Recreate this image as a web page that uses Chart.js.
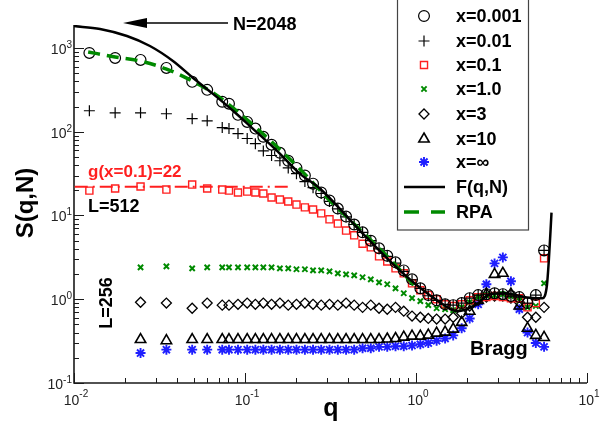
<!DOCTYPE html>
<html>
<head>
<meta charset="utf-8">
<script src="https://cdn.jsdelivr.net/npm/chart.js@4.4.1/dist/chart.umd.min.js"></script>
<style>
  html, body { margin: 0; padding: 0; background: #fff; }
  canvas { display: block; }
</style>
</head>
<body>
<canvas id="sq" width="612" height="434"></canvas>
<script>
"use strict";

// ── q sampling (L=512 runs start one shell earlier than L=256 runs) ──
const qHead512 = [0.0123, 0.0174];
const qHead256 = [0.0245, 0.0347, 0.0491, 0.0601, 0.0736, 0.0806, 0.0910];
const qGrid = [0.103, 0.115, 0.128, 0.143, 0.160, 0.179, 0.200, 0.224, 0.250, 0.279,
  0.312, 0.349, 0.390, 0.435, 0.487, 0.544, 0.608, 0.679, 0.759, 0.848,
  0.948, 1.06, 1.18, 1.32, 1.48, 1.65, 1.85, 2.06, 2.31, 2.58,
  2.88, 3.22, 3.59, 4.02, 4.49, 5.02, 5.61];
const q512 = [...qHead512, ...qHead256, ...qGrid];
const q256 = [...qHead256, ...qGrid];

// ── S(q,N) series ──
const sX0001 = [872, 760, 720, 578, 394, 316, 228, 216, 159,
  131, 109, 87, 70, 56, 45, 37, 30, 24, 18.8, 15.1, 12.1, 9.7, 7.8, 6.3, 5.0, 4.05, 3.3, 2.76, 2.21,
  1.73, 1.35, 1.12, 0.97, 0.87, 0.85, 0.90, 1.03, 1.12, 1.15, 1.18, 1.15, 1.09, 1.06, 0.90, 1.12, 3.83];
const sX001 = [178, 168, 168, 164, 143, 135, 112, 109, 95,
  83, 72, 59, 52, 45, 37, 31.6, 25.4, 21.5, 18.3, 14.7, 12.0, 9.6, 7.8, 6.3, 5.0, 4.0, 3.25, 2.7, 2.15,
  1.70, 1.35, 1.10, 0.97, 0.87, 0.85, 0.90, 1.03, 1.12, 1.15, 1.18, 1.15, 1.09, 1.06, 0.90, 1.12, 3.83];
const sX01 = [19.8, 21, 22.2, 20.4, 23.4, 21, 20.4, 19.8, 18.8,
  19.3, 18.8, 18.3, 16.4, 15.5, 14.7, 13.5, 12.5, 11.8, 10.6, 9.0, 8.0, 6.6, 5.8, 4.6, 4.16, 3.25, 2.83, 2.34, 2.04,
  1.55, 1.28, 1.12, 1.0, 0.87, 0.83, 0.87, 0.97, 1.06, 1.06, 1.09, 1.06, 1.03, 1.03, 0.80, 0.90, 3.08];
const sX1 = [2.40, 2.47, 2.34, 2.40, 2.40, 2.40, 2.40,
  2.40, 2.40, 2.40, 2.40, 2.34, 2.34, 2.28, 2.28, 2.21, 2.21, 2.15, 2.04, 1.98, 1.93, 1.83, 1.73, 1.59, 1.51, 1.35, 1.18,
  1.03, 0.95, 0.85, 0.78, 0.76, 0.74, 0.80, 0.92, 1.06, 1.12, 1.12, 1.15, 1.09, 0.97, 0.80, 0.83, 1.55];
const sX3 = [0.92, 0.90, 0.78, 0.90, 0.85, 0.85, 0.87,
  0.90, 0.87, 0.90, 0.87, 0.90, 0.85, 0.87, 0.90, 0.87, 0.85, 0.87, 0.85, 0.90, 0.85, 0.80, 0.85, 0.78, 0.76, 0.80, 0.72,
  0.63, 0.61, 0.59, 0.58, 0.58, 0.61, 0.68, 0.83, 0.97, 1.06, 1.09, 1.09, 1.03, 0.92, 0.61, 0.61, 0.80];
const sX10 = [0.33, 0.32, 0.33, 0.33, 0.33, 0.33, 0.33,
  0.33, 0.33, 0.33, 0.33, 0.33, 0.33, 0.33, 0.33, 0.33, 0.33, 0.33, 0.33, 0.33, 0.33, 0.33, 0.33, 0.33,
  0.335, 0.34, 0.353, 0.363, 0.363, 0.373, 0.394, 0.405, 0.44, 0.53, 0.72, 0.97, 1.15, 1.98, 2.04, 1.15, 0.83, 0.45, 0.37, 0.35];
const sXinf = [0.228, 0.25, 0.25, 0.25, 0.25, 0.25, 0.25,
  0.25, 0.25, 0.25, 0.25, 0.25, 0.25, 0.25, 0.25, 0.25, 0.25, 0.25, 0.25, 0.25, 0.25,
  0.26, 0.26, 0.27, 0.27, 0.275, 0.275, 0.28, 0.29, 0.30, 0.32, 0.34, 0.37, 0.45, 0.59, 0.87,
  1.51, 2.68, 3.16, 1.64, 0.76, 0.40, 0.30, 0.27];

// F(q,N) and RPA curves
const qF = [0.0100, 0.0142, 0.0204, 0.0278, 0.0379, 0.0497, 0.0650, 0.0851, 0.111, 0.154, 0.209, 0.274,
  0.470, 0.805, 1.33, 1.75, 2.22, 2.72, 3.33, 4.04, 4.97, 5.50, 5.83, 5.98, 6.12, 6.20];
const sF = [1828, 1683, 1389, 1056, 700, 439, 283, 178, 109, 59, 31.6, 21,
  6.6, 2.2, 0.97, 0.72, 0.85, 1.15, 1.18, 1.09, 1.03, 1.03, 1.47, 2.9, 6.6, 10.8];
const qRPA = [0.0121, 0.0174, 0.0243, 0.0345, 0.049, 0.065, 0.0851, 0.111, 0.154, 0.209, 0.313, 0.470, 0.705, 1.0];
const sRPA = [896, 781, 700, 563, 405, 291, 193, 121, 66, 36, 15.1, 6.8, 3.0, 1.39];
// g(x=0.1)=22 level
const qG = [0.0101, 0.19];
const sG = [22, 22];

// axis ticks
const xMajor = [0.01, 0.1, 1, 10];
const xExp = ["-2", "-1", "0", "1"];
const yMajor = [0.1, 1, 10, 100, 1000];
const yExp = ["-1", "0", "1", "2", "3"];
const minorMult = [2, 3, 4, 5, 6, 7, 8, 9];

const C = { ink: "#000", axis: "#1a1a1a", red: "#ff1f1f", green: "#008a00", blue: "#1f1fff" };
const FONT = "'Liberation Sans', Arial, sans-serif";

const pts = (qs, ss) => qs.map((q, i) => ({ x: q, y: ss[i] }));

function markers(label, qs, ss, style, color, radius, width) {
  return {
    label, data: pts(qs, ss), showLine: false, order: 2,
    pointStyle: style, pointRadius: radius, pointBorderColor: color,
    pointBackgroundColor: "rgba(0,0,0,0)", pointBorderWidth: width
  };
}

const datasets = [
  { label: "F(q,N)", data: pts(qF, sF), showLine: true, pointRadius: 0, order: 0,
    borderColor: C.ink, borderWidth: 2.5, cubicInterpolationMode: "monotone" },
  { label: "RPA", data: pts(qRPA, sRPA), showLine: true, pointRadius: 0, order: 1,
    borderColor: C.green, borderWidth: 3.5, borderDash: [12, 7], cubicInterpolationMode: "monotone" },
  { label: "g", data: pts(qG, sG), showLine: true, pointRadius: 0, order: 1,
    borderColor: C.red, borderWidth: 2, borderDash: [13, 5, 2, 5] },
  markers("x=0.001", q512, sX0001, "circle", C.ink, 5.4, 1.2),
  markers("x=0.01", q512, sX001, "cross", C.ink, 5.5, 1.2),
  markers("x=0.1", q512, sX01, "rect", C.red, 5, 1.4),
  markers("x=1.0", q256, sX1, "crossRot", C.green, 3.7, 2),
  markers("x=3", q256, sX3, "rectRot", C.ink, 5, 1.3),
  markers("x=10", q256, sX10, "triangle", C.ink, 6, 1.6),
  markers("x=\u221E", q256, sXinf, "star", C.blue, 5, 1.9)
];

function supLabel(ctx, exp, x, yBase, yExpBase, align) {
  ctx.font = "14px " + FONT;
  const wb = ctx.measureText("10").width;
  ctx.font = "10px " + FONT;
  const we = ctx.measureText(exp).width;
  const left = align === "right" ? x - wb - we : x - (wb + we) / 2;
  ctx.textAlign = "left";
  ctx.textBaseline = "alphabetic";
  ctx.fillStyle = "#222";
  ctx.font = "14px " + FONT;
  ctx.fillText("10", left, yBase);
  ctx.font = "10px " + FONT;
  ctx.fillText(exp, left + wb, yExpBase);
}

const axesPlugin = {
  id: "axes",
  beforeDatasetsDraw(chart) {
    const { ctx, chartArea: a, scales: { x, y } } = chart;
    ctx.save();
    ctx.strokeStyle = C.axis;
    ctx.lineWidth = 1.6;
    ctx.beginPath();
    ctx.moveTo(a.left, a.top); ctx.lineTo(a.left, a.bottom); ctx.lineTo(a.right, a.bottom);
    ctx.stroke();
    ctx.lineWidth = 1;
    ctx.beginPath();
    xMajor.forEach((v, i) => {
      const px = Math.round(x.getPixelForValue(v)) + 0.5;
      ctx.moveTo(px, a.bottom); ctx.lineTo(px, a.bottom - 10);
      if (i < xMajor.length - 1) minorMult.forEach(m => {
        const mx = Math.round(x.getPixelForValue(v * m)) + 0.5;
        ctx.moveTo(mx, a.bottom); ctx.lineTo(mx, a.bottom - 5);
      });
    });
    yMajor.forEach(v => {
      const py = Math.round(y.getPixelForValue(v)) + 0.5;
      ctx.moveTo(a.left, py); ctx.lineTo(a.left + 10, py);
      minorMult.forEach(m => {
        if (v * m > y.max) return;
        const my = Math.round(y.getPixelForValue(v * m)) + 0.5;
        ctx.moveTo(a.left, my); ctx.lineTo(a.left + 5, my);
      });
    });
    ctx.stroke();
    xMajor.forEach((v, i) => supLabel(ctx, xExp[i], x.getPixelForValue(v) + 2, 405, 397, "center"));
    yMajor.forEach((v, i) => {
      const py = y.getPixelForValue(v);
      supLabel(ctx, yExp[i], a.left - 2, py + 6, py, "right");
    });
    ctx.restore();
  }
};

function drawMarker(ctx, ds, cx, cy) {
  ctx.save();
  ctx.strokeStyle = ds.pointBorderColor;
  ctx.fillStyle = "rgba(0,0,0,0)";
  ctx.lineWidth = ds.pointBorderWidth;
  Chart.helpers.drawPoint(ctx, { pointStyle: ds.pointStyle, radius: ds.pointRadius, rotation: 0, borderWidth: ds.pointBorderWidth }, cx, cy);
  ctx.restore();
}

const textPlugin = {
  id: "texts",
  afterDraw(chart) {
    const { ctx } = chart;
    ctx.save();
    // legend box
    ctx.strokeStyle = "#444";
    ctx.lineWidth = 1.2;
    ctx.strokeRect(397.5, -2, 131, 232);
    const rows = [16, 41, 65, 89, 114, 139, 162, 187, 212];
    const marks = datasets.slice(3);
    ctx.font = "bold 18px " + FONT;
    ctx.textBaseline = "middle";
    ctx.textAlign = "left";
    marks.forEach((ds, i) => {
      drawMarker(ctx, ds, 424, rows[i]);
      ctx.fillStyle = C.ink;
      ctx.fillText(ds.label, 456, rows[i] + 1);
    });
    ctx.lineWidth = 2.5; ctx.strokeStyle = C.ink;
    ctx.beginPath(); ctx.moveTo(404, rows[7]); ctx.lineTo(445, rows[7]); ctx.stroke();
    ctx.lineWidth = 3.5; ctx.strokeStyle = C.green;
    ctx.beginPath(); ctx.moveTo(404, rows[8]); ctx.lineTo(419, rows[8]); ctx.moveTo(431, rows[8]); ctx.lineTo(445, rows[8]); ctx.stroke();
    ctx.fillStyle = C.ink;
    ctx.fillText("F(q,N)", 456, rows[7] + 1);
    ctx.fillText("RPA", 456, rows[8] + 1);

    // annotations
    ctx.textBaseline = "alphabetic";
    ctx.font = "bold 18px " + FONT;
    ctx.fillText("N=2048", 233, 30);
    ctx.lineWidth = 1.5; ctx.strokeStyle = C.ink;
    ctx.beginPath(); ctx.moveTo(145, 23); ctx.lineTo(228, 23); ctx.stroke();
    ctx.beginPath(); ctx.moveTo(123, 23); ctx.lineTo(147, 18); ctx.lineTo(147, 28); ctx.closePath(); ctx.fill();

    ctx.font = "bold 17px " + FONT;
    ctx.fillStyle = C.red;
    ctx.fillText("g(x=0.1)=22", 88, 177);
    ctx.fillStyle = C.ink;
    ctx.font = "bold 18px " + FONT;
    ctx.fillText("L=512", 88, 212);
    ctx.font = "bold 20px " + FONT;
    ctx.fillText("Bragg", 470, 355);

    ctx.save();
    ctx.translate(112, 303); ctx.rotate(-Math.PI / 2);
    ctx.font = "bold 18px " + FONT; ctx.textAlign = "center";
    ctx.fillText("L=256", 0, 0);
    ctx.restore();

    // axis titles
    ctx.save();
    ctx.translate(33, 203); ctx.rotate(-Math.PI / 2);
    ctx.font = "bold 24px " + FONT; ctx.textAlign = "center";
    ctx.fillText("S(q,N)", 0, 0);
    ctx.restore();
    ctx.font = "bold 25px " + FONT; ctx.textAlign = "center";
    ctx.fillText("q", 331, 416);
    ctx.restore();
  }
};

new Chart(document.getElementById("sq"), {
  type: "scatter",
  data: { datasets },
  options: {
    responsive: false,
    animation: false,
    events: [],
    layout: { padding: { top: 25, right: 25, left: 0, bottom: 0 } },
    plugins: { legend: { display: false }, tooltip: { enabled: false } },
    scales: {
      x: { type: "logarithmic", min: 0.01, max: 10,
        ticks: { display: false }, grid: { display: false }, border: { display: false },
        afterFit: s => { s.height = 51; } },
      y: { type: "logarithmic", min: 0.1, max: 1880,
        ticks: { display: false }, grid: { display: false }, border: { display: false },
        afterFit: s => { s.width = 74; } }
    }
  },
  plugins: [axesPlugin, textPlugin]
});
</script>
</body>
</html>
